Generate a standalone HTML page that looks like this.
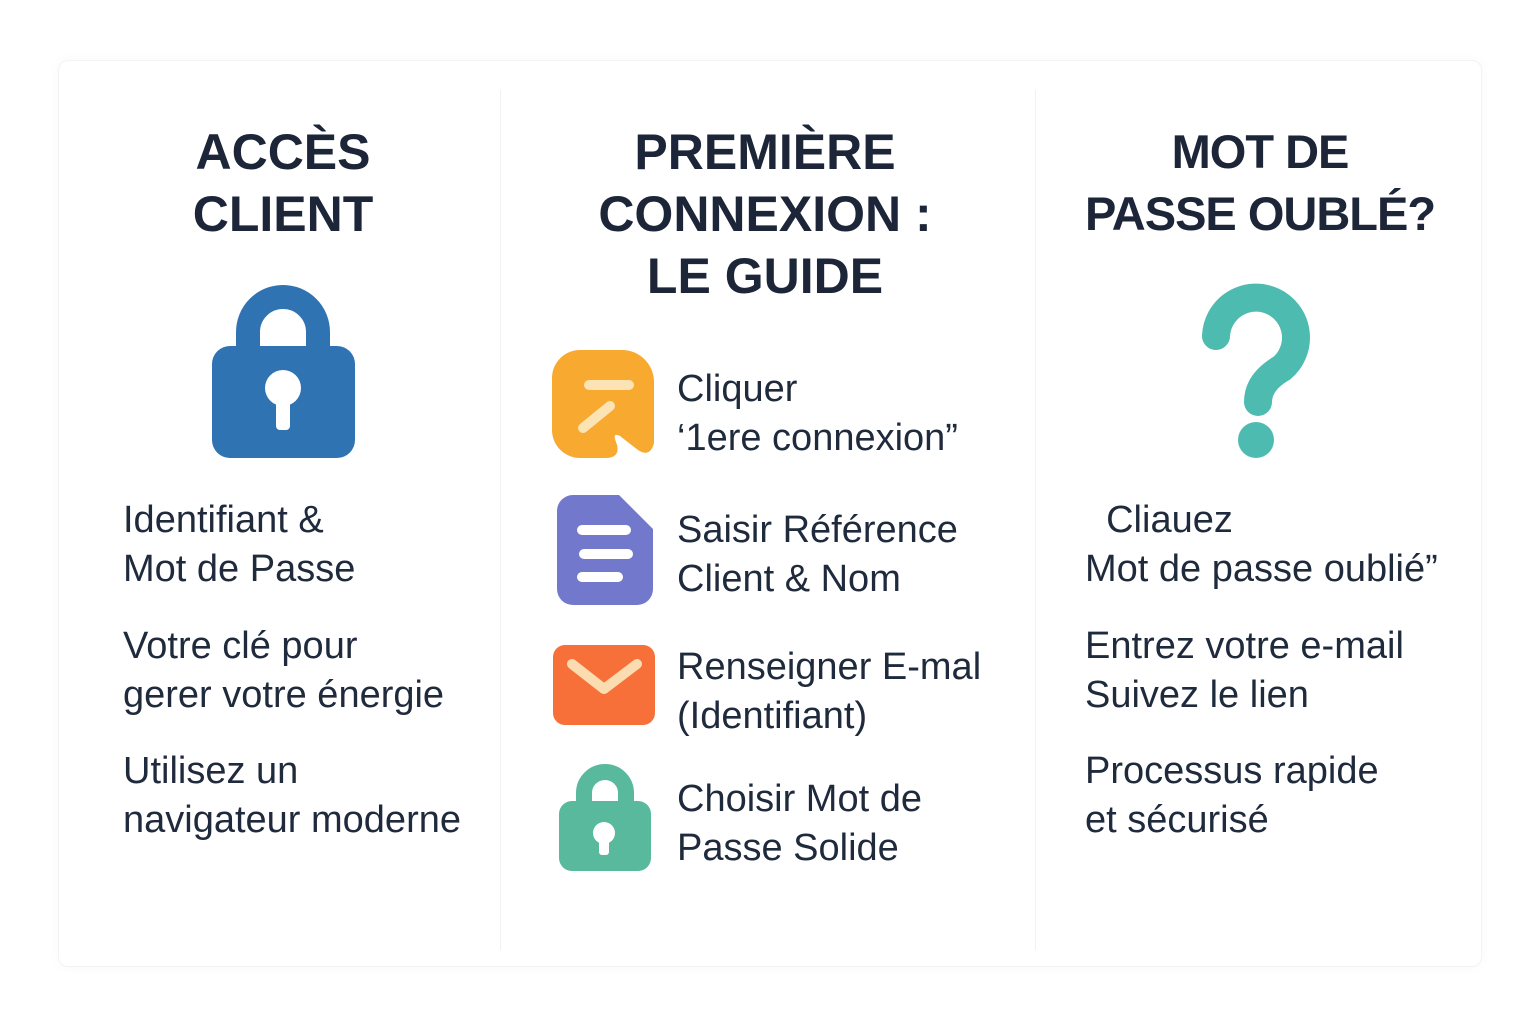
<!DOCTYPE html>
<html><head><meta charset="utf-8"><style>
body{margin:0;width:1536px;height:1024px;background:#fff;position:relative;overflow:hidden;font-family:"Liberation Sans","DejaVu Sans",sans-serif;color:#1d2739}
.card{position:absolute;left:58px;top:60px;width:1422px;height:905px;border:1px solid #f3f3f3;border-radius:10px;box-shadow:0 0 12px rgba(0,0,0,0.03)}
.div{position:absolute;top:90px;width:1px;height:860px;background:#f1f1f1}
.t{position:absolute;font-weight:bold;font-size:50px;line-height:62px;text-align:center;color:#1c2638}
.b{position:absolute;font-size:38px;line-height:49px;white-space:nowrap;color:#1f2a3c}
svg{position:absolute;overflow:visible}
</style></head><body>
<div class="card"></div>
<div class="div" style="left:500px"></div>
<div class="div" style="left:1035px"></div>

<div class="t" style="left:83px;width:400px;top:121px">ACCÈS<br>CLIENT</div>
<div class="t" style="left:535px;width:460px;top:121px">PREMIÈRE<br>CONNEXION :<br>LE GUIDE</div>
<div class="t" style="left:1040px;width:440px;top:121px;font-size:47px;letter-spacing:-1px">MOT DE<br>PASSE OUBLÉ?</div>

<!-- blue lock -->
<svg style="left:210px;top:284px" width="146" height="176" viewBox="0 0 146 176">
<path d="M38 70 V48 A35 35 0 0 1 108 48 V70" fill="none" stroke="#2f73b3" stroke-width="24"/>
<rect x="2" y="62" width="143" height="112" rx="18" fill="#2f73b3"/>
<circle cx="73" cy="104" r="18" fill="#fff"/>
<rect x="66" y="108" width="14" height="38" rx="4" fill="#fff"/>
</svg>

<div class="b" style="left:123px;top:496px">Identifiant &amp;<br>Mot de Passe</div>
<div class="b" style="left:123px;top:622px">Votre clé pour<br>gerer votre énergie</div>
<div class="b" style="left:123px;top:747px">Utilisez un<br>navigateur moderne</div>

<!-- orange -->
<svg style="left:550px;top:348px" width="106" height="112" viewBox="0 0 106 112">
<path d="M30 2 H72 A32 32 0 0 1 104 34 V95 Q100 110 88 102 L70 88 Q62 84 66 94 Q72 110 55 110 H30 A28 28 0 0 1 2 82 V30 A28 28 0 0 1 30 2Z" fill="#f8a92f"/>
<rect x="34" y="32" width="50" height="10" rx="5" fill="#fbe3b4"/>
<line x1="33" y1="80" x2="60" y2="58" stroke="#fbe3b4" stroke-width="10" stroke-linecap="round"/>
</svg>
<!-- purple doc -->
<svg style="left:555px;top:493px" width="100" height="114" viewBox="0 0 100 114">
<path d="M18 2 H64 L98 36 V96 A16 16 0 0 1 82 112 H18 A16 16 0 0 1 2 96 V18 A16 16 0 0 1 18 2Z" fill="#7278cc"/>
<rect x="22" y="32" width="54" height="10" rx="5" fill="#fff"/>
<rect x="24" y="56" width="54" height="10" rx="5" fill="#fff"/>
<rect x="22" y="79" width="46" height="10" rx="5" fill="#fff"/>
</svg>
<!-- orange mail -->
<svg style="left:552px;top:644px" width="104" height="82" viewBox="0 0 104 82">
<rect x="1" y="1" width="102" height="80" rx="12" fill="#f7703a"/>
<polyline points="20,20 52,45 85,20" fill="none" stroke="#fbdcb0" stroke-width="10" stroke-linecap="round" stroke-linejoin="round"/>
</svg>
<!-- green lock -->
<svg style="left:558px;top:763px" width="94" height="110" viewBox="0 0 94 110">
<path d="M26 42 V30 A21 21 0 0 1 68 30 V42" fill="none" stroke="#58b99c" stroke-width="16"/>
<rect x="1" y="38" width="92" height="70" rx="13" fill="#58b99c"/>
<circle cx="46" cy="70" r="11" fill="#fff"/>
<rect x="41" y="72" width="10" height="20" rx="3" fill="#fff"/>
</svg>

<div class="b" style="left:677px;top:365px">Cliquer<br>‘1ere connexion”</div>
<div class="b" style="left:677px;top:506px">Saisir Référence<br>Client &amp; Nom</div>
<div class="b" style="left:677px;top:643px">Renseigner E-mal<br>(Identifiant)</div>
<div class="b" style="left:677px;top:775px">Choisir Mot de<br>Passe Solide</div>

<!-- question mark -->
<svg style="left:1198px;top:284px" width="120" height="180" viewBox="0 0 120 180">
<path d="M18 52 A40 40 0 1 1 84 84 Q60 98 60 118" fill="none" stroke="#4dbbaf" stroke-width="28" stroke-linecap="round"/>
<circle cx="58" cy="156" r="18" fill="#4dbbaf"/>
</svg>

<div class="b" style="left:1085px;top:496px">&nbsp;&nbsp;Cliauez<br>Mot de passe oublié”</div>
<div class="b" style="left:1085px;top:622px">Entrez votre e-mail<br>Suivez le lien</div>
<div class="b" style="left:1085px;top:747px">Processus rapide<br>et sécurisé</div>
</body></html>
